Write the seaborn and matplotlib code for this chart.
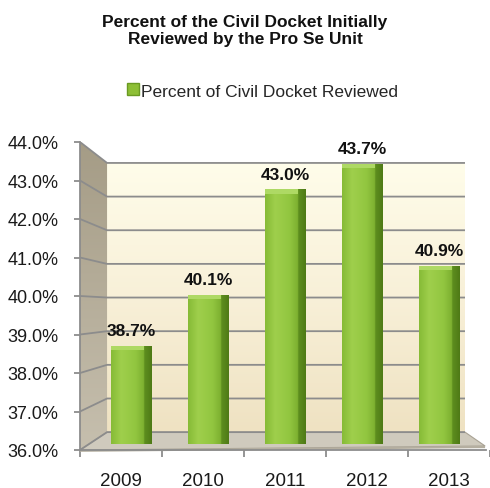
import numpy as np
import pandas as pd
import matplotlib
matplotlib.use("Agg")
import matplotlib.pyplot as plt
import seaborn as sns
from matplotlib.patches import Polygon, Rectangle
from matplotlib.lines import Line2D
from matplotlib.colors import LinearSegmentedColormap

years = ["2009", "2010", "2011", "2012", "2013"]
values = [38.7, 40.1, 43.0, 43.7, 40.9]
series_name = "Percent of Civil Docket Reviewed"
title = "Percent of the Civil Docket Initially\nReviewed by the Pro Se Unit"
yticks = [36, 37, 38, 39, 40, 41, 42, 43, 44]

sns.set_theme(style="white")
FONT = ['Liberation Sans Narrow', 'Liberation Sans', 'DejaVu Sans']
plt.rcParams['font.family'] = FONT

df = pd.DataFrame({"Year": years, "Value": values})

W, H = 490, 489
fig = plt.figure(figsize=(4.9, 4.89), dpi=100)


def fax(l, t, r, b):
    return [l / W, 1 - b / H, (r - l) / W, (b - t) / H]


# ---- main (front) axes: walls, ticks, labels
ax = fig.add_axes(fax(80, 143, 490, 451))
ax.set_xlim(-0.5, 4.5)
ax.set_ylim(36, 44)
ax.set_facecolor("white")

BX0, BX1, BY0, BY1 = 0.066, 0.939, 0.058, 0.932

# back wall gradient
wall = LinearSegmentedColormap.from_list("wall", ["#EFE2C2", "#F8F0D8", "#FFFDEA"])
grad = np.linspace(0, 1, 256).reshape(-1, 1)
ax.imshow(grad, cmap=wall, aspect="auto", extent=[BX0, BX1, BY0, BY1],
          transform=ax.transAxes, zorder=0, origin="lower")

# side wall
side = LinearSegmentedColormap.from_list("side", ["#C6BFAE", "#A59C86"])
sim = ax.imshow(grad, cmap=side, aspect="auto", extent=[0, BX0, 0, 1],
                transform=ax.transAxes, zorder=0.5, origin="lower")
sp = Polygon([(0, 0), (0, 1), (BX0, BY1), (BX0, BY0)], closed=True,
             transform=ax.transAxes, facecolor="none", edgecolor="none")
ax.add_patch(sp)
sim.set_clip_path(sp)

# floor
floor = Polygon([(0, 0), (BX0, BY0), (BX1, BY0), (0.988, 0.013)], closed=True,
                transform=ax.transAxes, facecolor="#CFCABD", edgecolor="#A8A294",
                linewidth=0.8, zorder=0.6)
ax.add_patch(floor)
ax.add_patch(Polygon([(0, 0), (0.988, 0.013), (0.988, 0.006), (0, -0.006)],
                     closed=True, transform=ax.transAxes, facecolor="#B4AE9F",
                     edgecolor="none", zorder=0.6, clip_on=False))

# gridlines (front tick -> back wall)
for v in yticks:
    yf = (v - 36) / 8
    yb = BY0 + (v - 36) / 8 * (BY1 - BY0)
    ax.plot([0, BX0, BX1], [yf, yb, yb], transform=ax.transAxes,
            color="#8C8C8C", linewidth=1.3, zorder=1, solid_capstyle="butt")

ax.set_yticks(yticks)
ax.set_yticklabels([f"{v:.1f}%" for v in yticks])
ax.set_xticks(range(len(years)))
ax.set_xticklabels(years)
ax.set_xticks(np.arange(-0.5, 4.6, 1), minor=True)
ax.tick_params(axis="x", which="major", length=0, labelsize=13.5,
               labelcolor="#1A1A1A", pad=16)
ax.tick_params(axis="x", which="minor", bottom=True, length=5,
               color="#8C8C8C", width=1.3)
ax.tick_params(axis="y", left=True, length=4.5, color="#8C8C8C", width=1.3,
               labelsize=13, labelcolor="#1A1A1A", pad=11)
for s in ["top", "right"]:
    ax.spines[s].set_visible(False)
ax.spines["left"].set_color("#8C8C8C")
ax.spines["left"].set_linewidth(1.3)
ax.spines["bottom"].set_color("#8C8C8C")
ax.spines["bottom"].set_linewidth(1.3)
ax.spines["bottom"].set_bounds(-0.5, 4.45)
for lab in ax.get_xticklabels() + ax.get_yticklabels():
    lab.set_fontfamily(FONT)

# ---- bar axes (middle depth plane)
bax = fig.add_axes(fax(92.5, 154, 477.5, 445))
bax.patch.set_visible(False)
bax.set_axis_off()
sns.barplot(data=df, x="Year", y="Value", ax=bax, color="#92C540",
            width=0.52, edgecolor="none", linewidth=0)
bax.set_xlim(-0.5, 4.5)
bax.set_ylim(36, 44)

barcmap = LinearSegmentedColormap.from_list(
    "bar", [(0, "#86BB36"), (0.25, "#9FCF4C"), (0.6, "#92C640"),
            (0.8, "#7DB030"), (0.82, "#5E8E1F"), (1, "#4E7A16")])
hgrad = np.linspace(0, 1, 256).reshape(1, -1)
for p in bax.patches:
    x0, w, h = p.get_x(), p.get_width(), p.get_height()
    top = p.get_y() + h
    im = bax.imshow(hgrad, cmap=barcmap, aspect="auto",
                    extent=[x0, x0 + w, 36, top], zorder=3)
    im.set_clip_path(p)
    cap = Rectangle((x0, top - 0.12), w * 0.82, 0.12, facecolor="#AED964",
                    edgecolor="none", zorder=4)
    bax.add_patch(cap)

for i, v in enumerate(values):
    bax.annotate(f"{v:.1f}%", (i, v), xytext=(0, 11), textcoords="offset points",
                 ha="center", va="center", fontsize=12.5, fontweight="bold",
                 color="#111111", family=FONT, annotation_clip=False)

# ---- title and legend
fig.text(0.5, 1 - 31 / H, title, ha="center", va="center", fontsize=12.5,
         fontweight="bold", color="#111111", linespacing=1.15, family=FONT)

handle = Line2D([], [], marker="s", linestyle="none", markersize=8,
                markerfacecolor="#8DBF35", markeredgecolor="#6A9A22")
leg = fig.legend([handle], [series_name], loc="center",
                 bbox_to_anchor=(262 / W, 1 - 92 / H), frameon=False,
                 handletextpad=0.1, handlelength=0.8,
                 prop={"family": FONT, "size": 12.5})

fig.savefig("out.png", dpi=100)
